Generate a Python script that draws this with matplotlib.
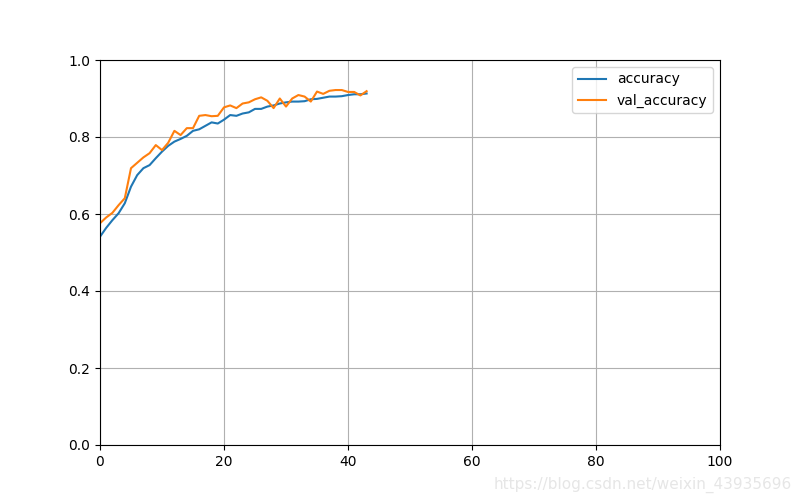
import matplotlib
matplotlib.use('Agg')
import matplotlib.pyplot as plt
import numpy as np

# Valores (epocas 0..43)
accuracy = [0.541, 0.564, 0.584, 0.602, 0.628, 0.671, 0.701, 0.719, 0.727, 0.745,
            0.762, 0.777, 0.788, 0.795, 0.803, 0.816, 0.820, 0.829, 0.838, 0.835,
            0.845, 0.857, 0.855, 0.861, 0.864, 0.873, 0.873, 0.879, 0.882, 0.887,
            0.890, 0.892, 0.892, 0.893, 0.898, 0.899, 0.902, 0.905, 0.905, 0.906,
            0.909, 0.911, 0.911, 0.913]
val_accuracy = [0.576, 0.591, 0.603, 0.623, 0.641, 0.719, 0.733, 0.747, 0.758, 0.779,
                0.766, 0.785, 0.816, 0.805, 0.823, 0.823, 0.855, 0.857, 0.854, 0.855,
                0.877, 0.882, 0.875, 0.887, 0.890, 0.898, 0.903, 0.894, 0.875, 0.900,
                0.879, 0.900, 0.909, 0.905, 0.892, 0.918, 0.912, 0.920, 0.922, 0.922,
                0.917, 0.917, 0.908, 0.919]
epochs = np.arange(len(accuracy))

fig = plt.figure(figsize=(8, 5), dpi=100)
plt.plot(epochs, accuracy, label='accuracy')
plt.plot(epochs, val_accuracy, label='val_accuracy')
plt.xlim(0, 100)
plt.ylim(0, 1)
plt.grid(True)
plt.legend()

# marca de agua
fig.text(0.99, 0.03, 'https://blog.csdn.net/weixin_43935696', ha='right', va='center',
         color='#e6e6e6', fontsize=11)

plt.savefig('out.png')
